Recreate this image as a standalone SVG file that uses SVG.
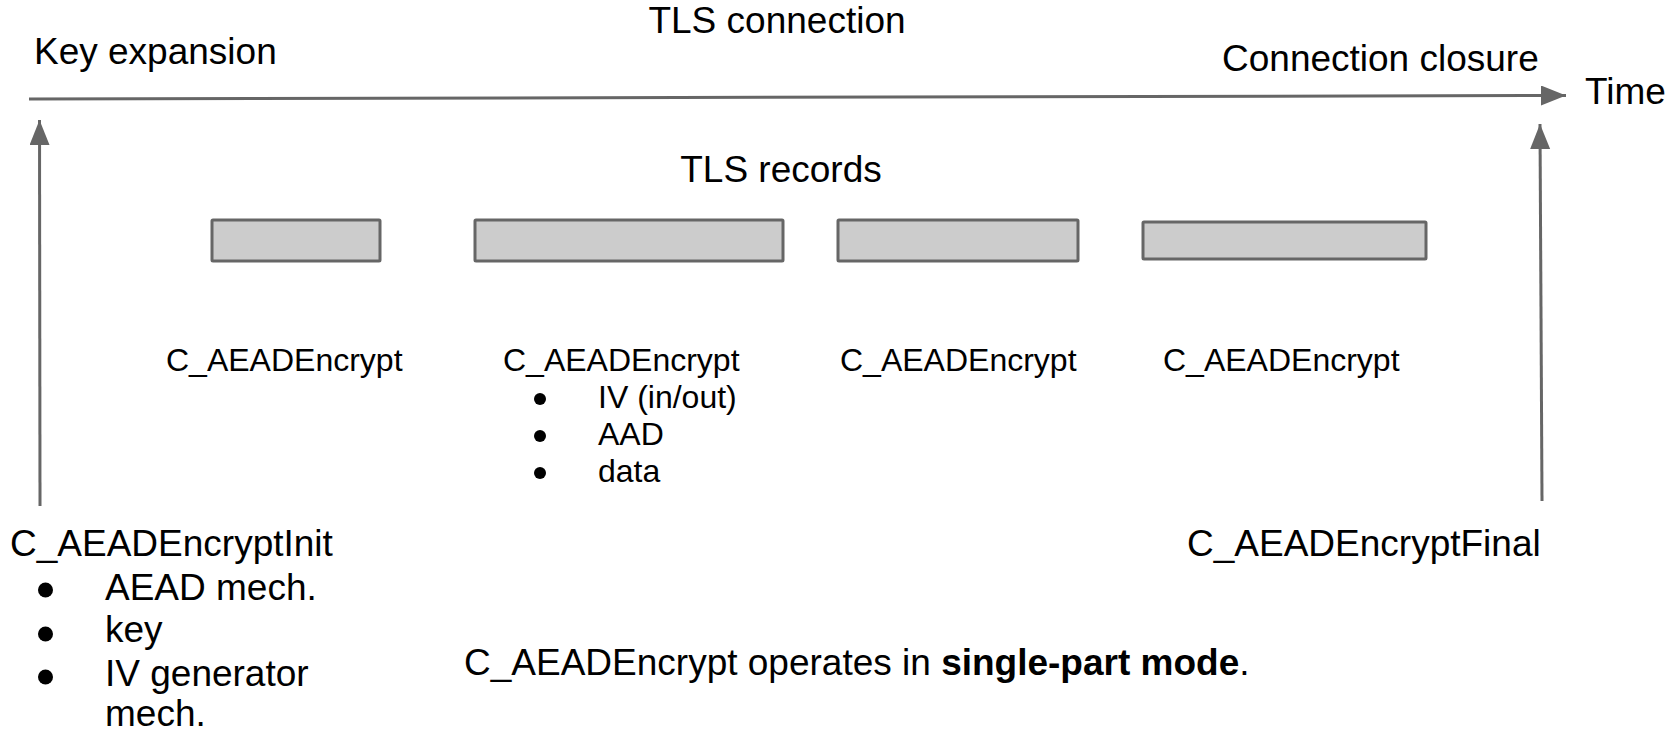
<svg xmlns="http://www.w3.org/2000/svg" width="1680" height="734" viewBox="0 0 1680 734">
  <defs>
    <marker id="arrowhead" markerUnits="userSpaceOnUse" markerWidth="28" markerHeight="22" refX="25" refY="10" orient="auto">
      <path d="M0,0 L25,10 L0,20 Z" fill="#666666"/>
    </marker>
    <style>
      text { font-family: "Liberation Sans", Arial, sans-serif; fill: #000000; }
      .big { font-size: 37px; }
      .small { font-size: 32px; }
      .bold { font-weight: bold; }
      .dot { fill: #000000; }
      .conn { stroke: #666666; stroke-width: 3; fill: none; }
      .record { fill: #cccccc; stroke: #666666; stroke-width: 3; }
    </style>
  </defs>

  <!-- timeline and event arrows -->
  <g id="connectors">
    <line class="conn" x1="29" y1="99" x2="1566" y2="95.5" marker-end="url(#arrowhead)"/>
    <line class="conn" x1="40" y1="506" x2="39.5" y2="120" marker-end="url(#arrowhead)"/>
    <line class="conn" x1="1542" y1="501" x2="1540" y2="124" marker-end="url(#arrowhead)"/>
  </g>

  <g id="title">
    <text class="big" x="777" y="33" text-anchor="middle">TLS connection</text>
  </g>
  <g id="key-expansion">
    <text class="big" x="34" y="64">Key expansion</text>
  </g>
  <g id="connection-closure">
    <text class="big" x="1222" y="71">Connection closure</text>
  </g>
  <g id="time">
    <text class="big" x="1585" y="104">Time</text>
  </g>

  <g id="tls-records">
    <text class="big" x="781" y="182" text-anchor="middle">TLS records</text>
  </g>

  <!-- record bars -->
  <g id="record-1"><rect class="record" x="212" y="220" width="168" height="41" rx="1"/></g>
  <g id="record-2"><rect class="record" x="475" y="220" width="308" height="41" rx="1"/></g>
  <g id="record-3"><rect class="record" x="838" y="220" width="240" height="41" rx="1"/></g>
  <g id="record-4"><rect class="record" x="1143" y="222" width="283" height="37" rx="1"/></g>

  <!-- per-record encrypt calls -->
  <g id="encrypt-1">
    <text class="small" x="166" y="371">C_AEADEncrypt</text>
  </g>
  <g id="encrypt-2">
    <text class="small" x="503" y="371">C_AEADEncrypt</text>
    <circle class="dot" cx="540" cy="399" r="6"/>
    <text class="small" x="598" y="408">IV (in/out)</text>
    <circle class="dot" cx="540" cy="436" r="6"/>
    <text class="small" x="598" y="445">AAD</text>
    <circle class="dot" cx="540" cy="473" r="6"/>
    <text class="small" x="598" y="482">data</text>
  </g>
  <g id="encrypt-3">
    <text class="small" x="840" y="371">C_AEADEncrypt</text>
  </g>
  <g id="encrypt-4">
    <text class="small" x="1163" y="371">C_AEADEncrypt</text>
  </g>

  <g id="encrypt-init">
    <text class="big" x="10" y="556">C_AEADEncryptInit</text>
    <circle class="dot" cx="45.5" cy="590" r="7.5"/>
    <text class="big" x="105" y="600">AEAD mech.</text>
    <circle class="dot" cx="45.5" cy="634" r="7.5"/>
    <text class="big" x="105" y="642">key</text>
    <circle class="dot" cx="45.5" cy="677" r="7.5"/>
    <text class="big" x="105" y="686">IV generator</text>
    <text class="big" x="105" y="726">mech.</text>
  </g>

  <g id="encrypt-final">
    <text class="big" x="1187" y="556">C_AEADEncryptFinal</text>
  </g>

  <g id="note">
    <text class="big" x="464" y="675">C_AEADEncrypt operates in <tspan class="bold">single-part mode</tspan>.</text>
  </g>
</svg>
